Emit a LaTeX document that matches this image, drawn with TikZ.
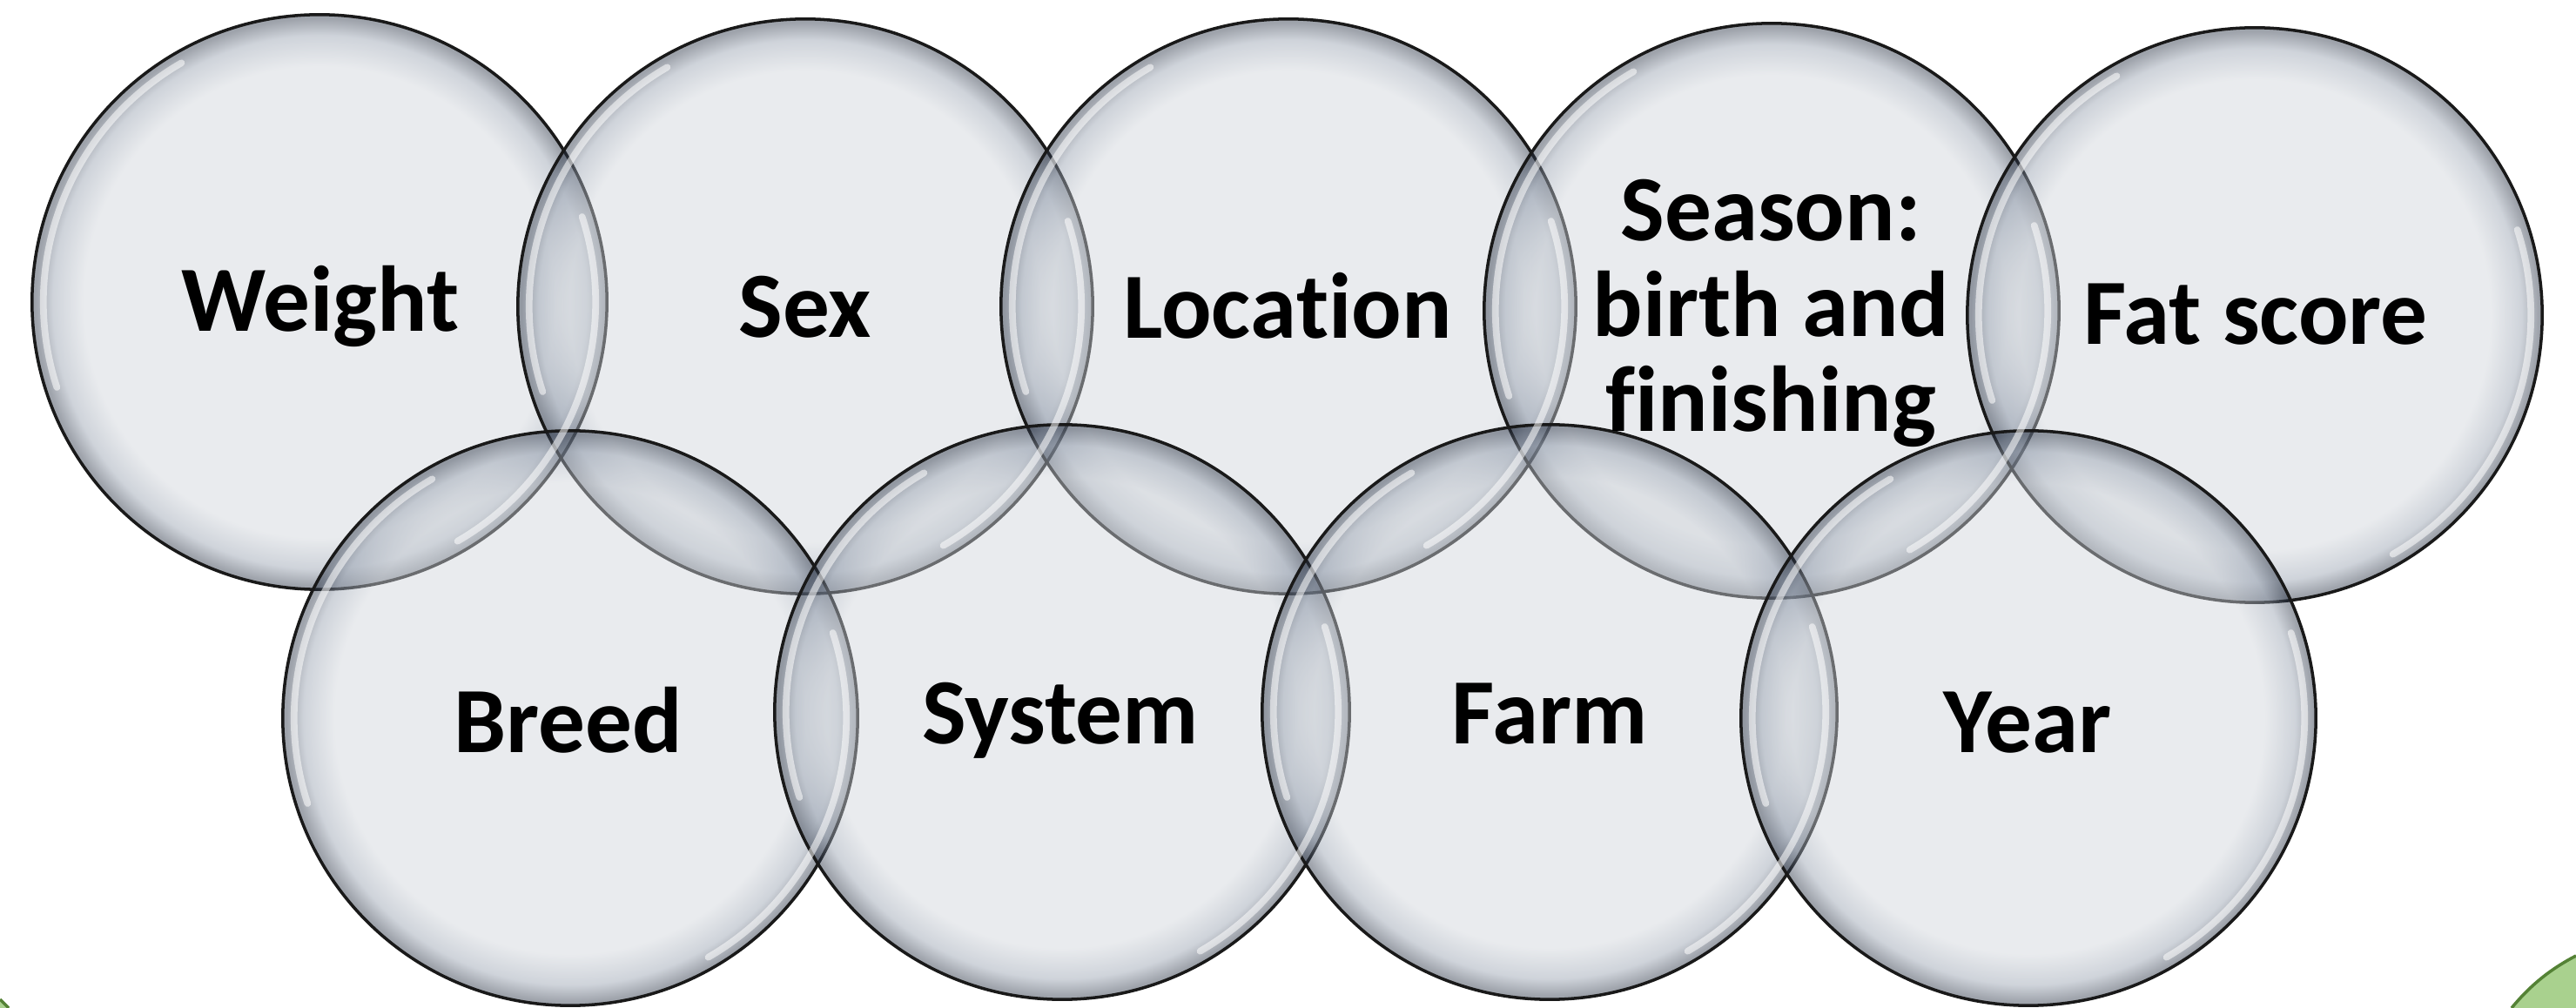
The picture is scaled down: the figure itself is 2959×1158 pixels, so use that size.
\documentclass[tikz,border=0pt]{standalone}
\usepackage{fontspec}
\setmainfont{Carlito}[Ligatures=NoCommon]
\definecolor{bubin}{rgb}{0.809,0.827,0.851}
\definecolor{bubmid}{rgb}{0.58,0.62,0.68}
\definecolor{bubrim}{rgb}{0.16,0.20,0.27}
\definecolor{leafgreen}{HTML}{A9D18E}
\definecolor{leafedge}{HTML}{548235}
\pgfdeclareradialshading{bubble}{\pgfpointorigin}{%
  color(0bp)=(bubin); color(20.5bp)=(bubin); color(23.2bp)=(bubmid);
  color(24.7bp)=(bubrim); color(25bp)=(bubrim); color(50bp)=(bubrim)}
\tikzset{
  bub/.style={circle, minimum size=6.6cm, inner sep=0pt, shade, shading=bubble,
    fill opacity=0.45, draw=black!90, draw opacity=1, line width=1pt},
  lbl/.style={font=\bfseries\fontsize{30.5pt}{31.2pt}\selectfont, text=black,
    text opacity=1, align=center, inner sep=0pt},
  hl/.style={white, line width=2.2pt, opacity=0.55, line cap=round},
  leaf/.style={fill=leafgreen, draw=none},
  leafline/.style={draw=leafedge, line width=1pt},
}
\begin{document}
\begin{tikzpicture}[x=0.01cm, y=-0.01cm]
\useasboundingbox (0,0) rectangle (2959,1158);
% green background fragments
\fill[leaf] (2885,1158) .. controls (2908,1130) and (2932,1112) .. (2959,1098) -- (2959,1158) -- cycle;
\draw[leafline] (2885,1158) .. controls (2908,1130) and (2932,1112) .. (2959,1098);
\fill[leaf] (0,1148) -- (10,1158) -- (0,1158) -- cycle;
\draw[leafline] (0,1148) -- (10,1158);
% circles
\node[bub] (weight) at (367,347) {};
\node[bub] (sex) at (925,352) {};
\node[bub] (location) at (1480,352) {};
\node[bub] (season) at (2035,357) {};
\node[bub] (fat) at (2590,362) {};
\node[bub] (breed) at (655,825) {};
\node[bub] (system) at (1220,818) {};
\node[bub] (farm) at (1780,818) {};
\node[bub] (year) at (2330,825) {};
% glass highlights
\foreach \n in {weight,sex,location,season,fat,breed,system,farm,year}{
  \draw[hl] (\n.center) ++(120:3.17cm) arc[start angle=120, end angle=198, radius=3.17cm];
  \draw[hl] (\n.center) ++(-60:3.17cm) arc[start angle=-60, end angle=18, radius=3.17cm];
}
% labels
\node[lbl, anchor=base] (tweight) at (368,381) {Weight};
\node[lbl, anchor=base] (tsex) at (925,388) {Sex};
\node[lbl, anchor=base] (tlocation) at (1479,389) {Loca\kern0pt tion};
\node[lbl] (tseason) at (2034,360) {Season:\\birth and\\f\kern0pt inishing};
\node[lbl, anchor=base] (tfat) at (2591,396) {Fat score};
\node[lbl, anchor=base] (tbreed) at (653,864) {Breed};
\node[lbl, anchor=base] (tsystem) at (1218,854) {System};
\node[lbl, anchor=base] (tfarm) at (1780,854) {Farm};
\node[lbl, anchor=base] (tyear) at (2329,864) {Year};
\end{tikzpicture}
\end{document}
